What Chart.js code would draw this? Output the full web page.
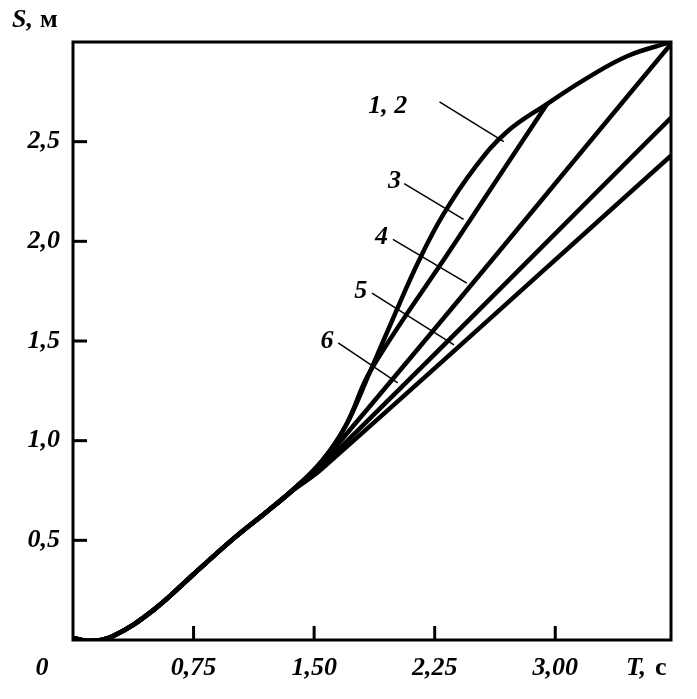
<!DOCTYPE html>
<html>
<head>
<meta charset="utf-8">
<script src="https://cdn.jsdelivr.net/npm/chart.js@4"></script>
<style>
  body { margin: 0; background: #fff; }
  #wrap { width: 697px; height: 699px; }
</style>
</head>
<body>
<div id="wrap"><canvas id="c"></canvas></div>
<script>
// common start of all curves
const base = [[0,0.01],[0.1,-0.005],[0.25,0.02],[0.5,0.15],[0.75,0.33],[1.0,0.51],[1.2,0.64],[1.35,0.74]];
const curve12 = [[1.55,0.9],[1.7,1.08],[1.85,1.35],[2.0,1.63],[2.15,1.9],[2.3,2.13],[2.5,2.37],[2.7,2.55],[2.95,2.69],[3.2,2.82],[3.45,2.93],[3.72,3.0]];
const curve3 = [[1.55,0.9],[1.7,1.08],[1.85,1.35],[2.35,1.96],[2.95,2.69]];
const curve4 = [[1.55,0.89],[3.72,2.99]];
const curve5 = [[1.55,0.875],[3.72,2.62]];
const curve6 = [[1.55,0.86],[3.72,2.43]];
const xTicks = [0.75, 1.5, 2.25, 3.0];
const xTickLabels = ["0,75", "1,50", "2,25", "3,00"];
const yTicks = [0.5, 1.0, 1.5, 2.0, 2.5];
const yTickLabels = ["0,5", "1,0", "1,5", "2,0", "2,5"];
// curve labels: text, text position, leader start, leader end (data units)
const curveLabels = [
  ["1, 2", [2.03, 2.68], [2.28, 2.7], [2.68, 2.5]],
  ["3",    [1.99, 2.3],  [2.06, 2.29], [2.43, 2.11]],
  ["4",    [1.91, 2.02], [1.99, 2.01], [2.45, 1.79]],
  ["5",    [1.78, 1.75], [1.86, 1.74], [2.37, 1.48]],
  ["6",    [1.57, 1.5],  [1.65, 1.49], [2.02, 1.29]]
];

function pts(arr) { return arr.map(p => ({x: p[0], y: p[1]})); }
function line(arr) {
  return { data: pts(base.concat(arr)), borderColor: "#000", borderWidth: 4.5,
           pointRadius: 0, tension: 0.4, fill: false };
}

const font = "italic bold 26px 'Liberation Serif', serif";
const upFont = "bold 26px 'Liberation Serif', serif";

const decor = {
  id: "decor",
  afterDraw(chart) {
    const ctx = chart.ctx, a = chart.chartArea;
    const xs = chart.scales.x, ys = chart.scales.y;
    ctx.save();
    ctx.strokeStyle = "#000";
    ctx.lineWidth = 3;
    ctx.strokeRect(a.left, a.top, a.right - a.left, a.bottom - a.top);
    xTicks.forEach(v => {
      const px = xs.getPixelForValue(v);
      ctx.beginPath(); ctx.moveTo(px, a.bottom); ctx.lineTo(px, a.bottom - 14); ctx.stroke();
    });
    yTicks.forEach(v => {
      const py = ys.getPixelForValue(v);
      ctx.beginPath(); ctx.moveTo(a.left, py); ctx.lineTo(a.left + 14, py); ctx.stroke();
    });
    ctx.fillStyle = "#000";
    ctx.font = font;
    ctx.textBaseline = "middle";
    ctx.textAlign = "center";
    xTicks.forEach((v, i) => ctx.fillText(xTickLabels[i], xs.getPixelForValue(v), 668));
    ctx.fillText("0", 42, 668);
    ctx.textAlign = "right";
    yTicks.forEach((v, i) => ctx.fillText(yTickLabels[i], 60, ys.getPixelForValue(v)));
    ctx.textAlign = "left";
    ctx.fillText("S,", 12, 20);
    ctx.font = upFont;
    ctx.fillText("м", 40, 20);
    ctx.font = font;
    ctx.fillText("T,", 626, 668);
    ctx.font = upFont;
    ctx.fillText("с", 655, 668);
    ctx.font = font;
    ctx.lineWidth = 1.5;
    curveLabels.forEach(l => {
      ctx.textAlign = "right";
      ctx.fillText(l[0], xs.getPixelForValue(l[1][0]) + 8, ys.getPixelForValue(l[1][1]));
      ctx.beginPath();
      ctx.moveTo(xs.getPixelForValue(l[2][0]), ys.getPixelForValue(l[2][1]));
      ctx.lineTo(xs.getPixelForValue(l[3][0]), ys.getPixelForValue(l[3][1]));
      ctx.stroke();
    });
    ctx.restore();
  }
};

new Chart(document.getElementById("c"), {
  type: "line",
  data: { datasets: [line(curve12), line(curve3), line(curve4), line(curve5), line(curve6)] },
  options: {
    responsive: true,
    maintainAspectRatio: false,
    animation: false,
    layout: { padding: { left: 0, right: 26, top: 42, bottom: 0 } },
    plugins: { legend: { display: false }, tooltip: { enabled: false } },
    scales: {
      x: {
        type: "linear", min: 0, max: 3.72,
        ticks: { display: false }, grid: { display: false }, border: { display: false },
        afterFit(s) { s.height = 59; }
      },
      y: {
        min: 0, max: 3.0,
        ticks: { display: false }, grid: { display: false }, border: { display: false },
        afterFit(s) { s.width = 73; }
      }
    }
  },
  plugins: [decor]
});
</script>
</body>
</html>
